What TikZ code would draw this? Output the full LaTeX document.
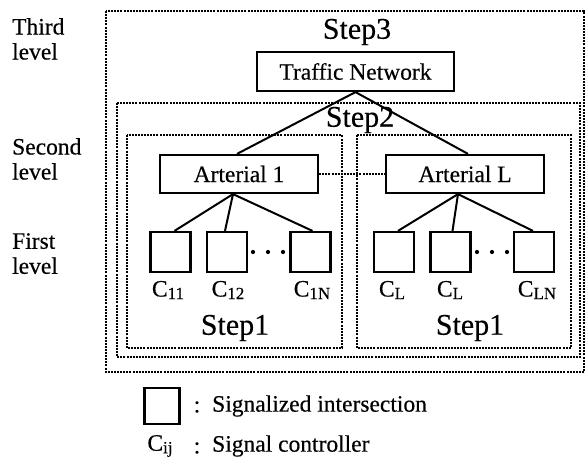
\documentclass[tikz,border=0pt]{standalone}
\usepackage{fontspec}
\setmainfont{Liberation Serif}[FakeBold=0.4]
\usetikzlibrary{calc}

% body text and step titles
\newcommand\bodysz{\fontsize{23.5}{25}\selectfont}
\newcommand\stepsz{\fontsize{30}{32}\selectfont}
% lowered, smaller index for controller names
\newcommand\ctlidx[1]{\raisebox{-2.5pt}{\fontsize{17}{17}\selectfont #1}}

\tikzset{
  levelbox/.style={draw, line width=2.2pt, inner sep=0pt, font=\bodysz},
  sigbox/.style={draw, line width=2.2pt, inner sep=0pt, minimum width=40pt, minimum height=40pt},
  region/.style={draw, line width=2.1pt, dash pattern=on 2pt off 1.1pt},
  link/.style={line width=2pt},
  dotlink/.style={line width=2pt, dash pattern=on 2pt off 1.1pt},
  txt/.style={inner sep=0pt, font=\bodysz},
  steptxt/.style={inner sep=0pt, font=\stepsz},
  sidetxt/.style={inner sep=0pt, font=\bodysz, align=left, anchor=north west},
}

\begin{document}
\begin{tikzpicture}[x=1pt, y=-1pt]
\useasboundingbox (0,0) rectangle (586,458);

% nested step regions
\draw[region] (106,11) rectangle (584,372);
\draw[region] (117,103) rectangle (580,357);
\draw[region] (127,135) rectangle (342,348);
\draw[region] (357,135) rectangle (571,348);

% level titles on the left
\node[sidetxt] (third)  at (12,18)  {Third\\level};
\node[sidetxt] (second) at (12,138) {Second\\level};
\node[sidetxt] (first)  at (12,233) {First\\level};

% step titles
\node[steptxt] (st3)  at (357,32)  {Step3};
\node[steptxt] (st2)  at (360,120) {Step2};
\node[steptxt] (st1a) at (235,328) {Step1};
\node[steptxt] (st1b) at (470,328) {Step1};

% hierarchy
\node[levelbox, minimum width=197pt, minimum height=39pt] (tn) at (355.5,71.5) {Traffic Network};
\node[levelbox, minimum width=158pt, minimum height=38pt] (a1) at (239,174) {Arterial 1};
\node[levelbox, minimum width=158pt, minimum height=38pt] (aL) at (465,174) {Arterial L};

\node[sigbox] (s11) at (170.5,252) {};
\node[sigbox] (s12) at (227,252) {};
\node[sigbox] (s1N) at (310.5,252) {};
\node[sigbox] (sL1) at (394,252) {};
\node[sigbox] (sL2) at (450.5,252) {};
\node[sigbox] (sLN) at (534,252) {};

% connectors
\draw[link] (tn.south) -- ($(a1.north)+(-2,0)$);
\draw[link] (tn.south) -- ($(aL.north)+(3,0)$);
\draw[dotlink] (a1.east) -- (aL.west);

\coordinate (a1b) at ($(a1.south)+(-6,0)$);
\draw[link] (a1b) -- ($(s11.north)+(4,0)$);
\draw[link] (a1b) -- ($(s12.north)+(-2,0)$);
\draw[link] (a1b) -- ($(s1N.north)+(2,0)$);

\coordinate (aLb) at ($(aL.south)+(-7,0)$);
\draw[link] (aLb) -- ($(sL1.north)+(4,0)$);
\draw[link] (aLb) -- ($(sL2.north)+(2,0)$);
\draw[link] (aLb) -- ($(sLN.north)+(-1,0)$);

% ellipses between the last two intersections
\foreach \x in {253,268,283,477,492,507}
  \fill (\x,252) circle (2.1pt);

% controller names
\node[txt] (c11) at (168,290) {C\ctlidx{11}};
\node[txt] (c12) at (228,290) {C\ctlidx{12}};
\node[txt] (c1N) at (312,290) {C\ctlidx{1N}};
\node[txt] (cL1) at (392,290) {C\ctlidx{L}};
\node[txt] (cL2) at (450,290) {C\ctlidx{L}};
\node[txt] (cLN) at (537,290) {C\ctlidx{LN}};

% legend
\node[sigbox, minimum width=35pt, minimum height=36pt] (legbox) at (162,406) {};
\node[txt] (col1) at (197,407) {:};
\node[txt, anchor=west] (leg1) at (212,406) {Signalized intersection};
\node[txt] (legc) at (160,446) {C\ctlidx{ij}};
\node[txt] (col2) at (197,448) {:};
\node[txt, anchor=west] (leg2) at (212,446) {Signal controller};
\end{tikzpicture}
\end{document}
